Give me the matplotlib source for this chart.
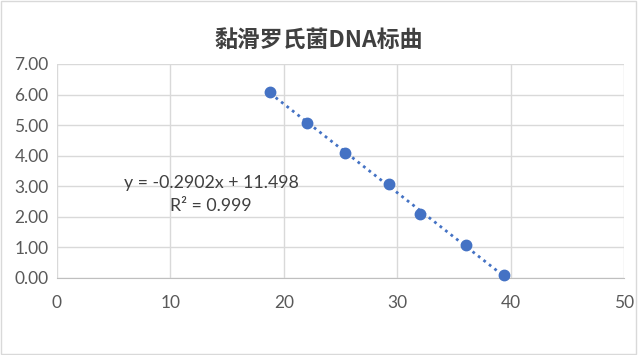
import matplotlib
matplotlib.use("Agg")
import matplotlib.pyplot as plt
import numpy as np

# Datos
ct_vals = [18.8, 22.07, 25.42, 29.25, 32.0, 36.07, 39.42]
log_copias = [6.08, 5.08, 4.08, 3.08, 2.08, 1.08, 0.09]
pendiente = -0.2902
intercepto = 11.498
r2 = 0.999
titulo = "黏滑罗氏菌DNA标曲"

azul = "#4472C4"
gris_txt = "#595959"

plt.rcParams['font.family'] = ['Lato', 'DejaVu Sans']

fig = plt.figure(figsize=(6.38, 3.55), dpi=100)
ax = fig.add_axes([57 / 638, 1 - 278 / 355, (624 - 57) / 638, (278 - 64) / 355])

# Línea de tendencia
xs = np.array([min(ct_vals), max(ct_vals)])
ax.plot(xs, pendiente * xs + intercepto, linestyle=(0, (1, 1.5)), color=azul, lw=2,
        zorder=2, clip_on=False)
ax.plot(ct_vals, log_copias, 'o', color=azul, ms=7.5, zorder=3, clip_on=False)

ax.set_xlim(0, 50)
ax.set_ylim(0, 7)
ax.set_xticks(np.arange(0, 51, 10))
ax.set_yticks(np.arange(0, 7.1, 1))
ax.set_yticklabels([f"{v:.2f}" for v in np.arange(0, 7.1, 1)])
ax.grid(True, color="#d9d9d9", lw=1)
ax.set_axisbelow(True)
for s in ["top", "right", "left"]:
    ax.spines[s].set_visible(False)
ax.spines["bottom"].set_color("#bfbfbf")
ax.tick_params(length=0, labelsize=12.5, colors=gris_txt)
ax.tick_params(axis='x', pad=12)
ax.tick_params(axis='y', pad=6)

ax.text(13.6, 3.1, f"y = {pendiente}x + {intercepto}", ha="center", va="center",
        fontsize=12.8, color="#404040")
ax.text(13.6, 2.35, f"R² = {r2}", ha="center", va="center",
        fontsize=12.8, color="#404040")

fig.text(0.5, 1 - 40 / 355, titulo, ha="center", va="center", fontsize=16.5,
         fontweight="bold", color="#404040", family=['Noto Sans CJK SC', 'DejaVu Sans'])

# Borde exterior
fig.patches.append(plt.Rectangle((0.002, 0.003), 0.995, 0.994, transform=fig.transFigure,
                                 fill=False, edgecolor="#d9d9d9", lw=1))

fig.savefig("out.png", dpi=100)
